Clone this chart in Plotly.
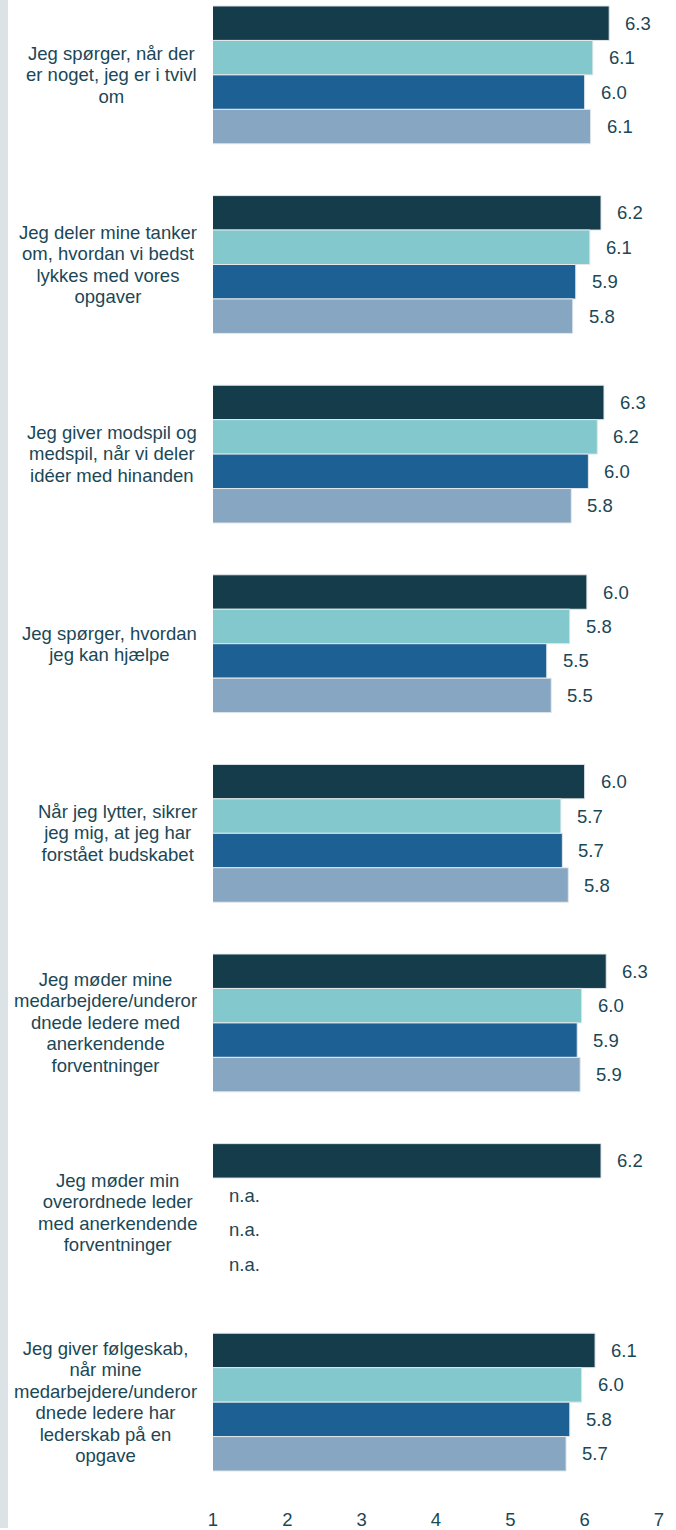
import plotly.graph_objects as go

categories = [
    "Jeg spørger, når der<br>er noget, jeg er i tvivl<br>om",
    "Jeg deler mine tanker<br>om, hvordan vi bedst<br>lykkes med vores<br>opgaver",
    "Jeg giver modspil og<br>medspil, når vi deler<br>idéer med hinanden",
    "Jeg spørger, hvordan<br>jeg kan hjælpe",
    "Når jeg lytter, sikrer<br>jeg mig, at jeg har<br>forstået budskabet",
    "Jeg møder mine<br>medarbejdere/underor<br>dnede ledere med<br>anerkendende<br>forventninger",
    "Jeg møder min<br>overordnede leder<br>med anerkendende<br>forventninger",
    "Jeg giver følgeskab,<br>når mine<br>medarbejdere/underor<br>dnede ledere har<br>lederskab på en<br>opgave",
]

series_names = ["Serie 1", "Serie 2", "Serie 3", "Serie 4"]
series_1 = [6.33, 6.22, 6.26, 6.03, 6.00, 6.29, 6.22, 6.14]
series_2 = [6.11, 6.07, 6.17, 5.80, 5.68, 5.96, None, 5.96]
series_3 = [6.00, 5.88, 6.05, 5.49, 5.70, 5.90, None, 5.80]
series_4 = [6.08, 5.84, 5.82, 5.55, 5.78, 5.94, None, 5.75]
labels_1 = ["6.3", "6.2", "6.3", "6.0", "6.0", "6.3", "6.2", "6.1"]
labels_2 = ["6.1", "6.1", "6.2", "5.8", "5.7", "6.0", "n.a.", "6.0"]
labels_3 = ["6.0", "5.9", "6.0", "5.5", "5.7", "5.9", "n.a.", "5.8"]
labels_4 = ["6.1", "5.8", "5.8", "5.5", "5.8", "5.9", "n.a.", "5.7"]
x_ticks = [1, 2, 3, 4, 5, 6, 7]

series_values = [series_1, series_2, series_3, series_4]
series_labels = [labels_1, labels_2, labels_3, labels_4]
colors = ["#143C4A", "#82C8CD", "#1D6094", "#87A6C2"]
text_color = "#1B4756"
FONT = "Liberation Sans, Arial, sans-serif"

bargap = 0.273
x_min, x_max = 1, 7

fig = go.Figure()
for name, vals, col in zip(series_names, series_values, colors):
    fig.add_trace(go.Bar(
        y=categories, x=vals, orientation="h", name=name,
        marker=dict(color=col, line=dict(color="#E3E8EB", width=1)),
        hoverinfo="x+y",
    ))

annotations = []
n = len(series_values)
slot = (1 - bargap) / n
for i, (vals, labs) in enumerate(zip(series_values, series_labels)):
    off = (i - (n - 1) / 2) * slot
    for g, (v, lab) in enumerate(zip(vals, labs)):
        annotations.append(dict(
            x=v if v is not None else x_min, y=g + off, xref="x", yref="y",
            text=lab, showarrow=False, xanchor="left", yanchor="middle",
            xshift=14, font=dict(family=FONT, size=18.5, color=text_color),
        ))

for g, cat in enumerate(categories):
    lines = cat.split("<br>")
    txt = "<br>".join(f'<span style="font-size:18.5px">{ln}</span>' for ln in lines)
    annotations.append(dict(
        x=-0.0315, y=g, xref="paper", yref="y", text=txt, showarrow=False,
        xanchor="right", yanchor="middle", align="center",
        font=dict(family=FONT, size=16.5, color=text_color),
    ))

plot_top, plot_bottom = 0, 1490
px_per_cat = 189.86
first_center = 75
last_center = first_center + 7 * px_per_cat
r_top = -(first_center - plot_top) / px_per_cat
r_bot = 7 + (plot_bottom - last_center) / px_per_cat

fig.update_layout(
    width=676, height=1530,
    margin=dict(l=213, r=17, t=0, b=1530 - plot_bottom),
    barmode="group", bargap=bargap, bargroupgap=0,
    plot_bgcolor="white", paper_bgcolor="white",
    showlegend=False,
    annotations=annotations,
    shapes=[dict(type="rect", xref="paper", yref="paper",
                 x0=(0 - 213) / 446, x1=(8 - 213) / 446,
                 y0=-(1530 - plot_bottom) / plot_bottom, y1=1.0,
                 fillcolor="#DCE3E6", line=dict(width=0), layer="below")],
    font=dict(family=FONT, size=18.5, color=text_color),
)
fig.update_xaxes(range=[x_min, x_max], tickvals=x_ticks, showgrid=False,
                 zeroline=False, showline=False, ticks="",
                 ticklabelstandoff=18,
                 tickfont=dict(family=FONT, size=18.5, color=text_color))
fig.update_yaxes(type="category", range=[r_bot, r_top], showticklabels=False,
                 showgrid=False, zeroline=False, showline=False, ticks="")

fig.write_html("out.html", config={"displayModeBar": False},
               post_script="document.body.style.margin='0';document.body.style.overflow='hidden';")
